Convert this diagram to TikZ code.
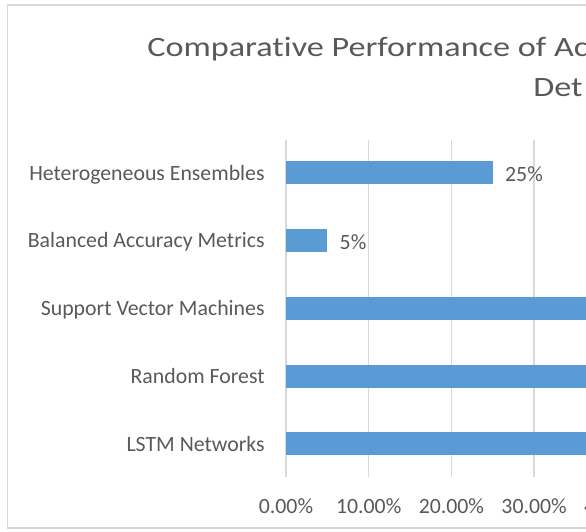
\documentclass[tikz,border=0pt]{standalone}
\usepackage{fontspec}
\setmainfont[Ligatures = NoCommon]{Carlito}
\newfontfamily\titlefont[FakeStretch = 1.22, Ligatures = NoCommon]{Carlito}
\definecolor{barblue}{HTML}{5B9BD5}
\definecolor{labelgray}{HTML}{595959}
\definecolor{gridgray}{HTML}{D9D9D9}
\tikzset{
    bar/.style = {fill = barblue},
    gridline/.style = {draw = gridgray, line width = 0.75pt},
    catlabel/.style = {anchor = base east, inner sep = 0, text = labelgray, font = \fontsize{10.9}{13}\selectfont},
    vallabel/.style = {anchor = base west, inner sep = 0, text = labelgray, font = \fontsize{10.9}{13}\selectfont},
    ticklabel/.style = {anchor = base, inner sep = 0, text = labelgray, font = \fontsize{10.9}{13}\selectfont},
    titlelabel/.style = {anchor = base west, inner sep = 0, text = labelgray, font = \titlefont\fontsize{14}{17}\selectfont}
}
\begin{document}
\begin{tikzpicture}[x = 0.5pt, y = -0.5pt]
        \pgfmathsetmacro{\u}{82.7};
        \useasboundingbox (0, 0) rectangle (586, 532);
        \draw [gridgray, line width = 0.75pt] (7.5, 5) rectangle (640, 528);
        \node [titlelabel] (title1) at (147, 56) {Comparative Performance of Ac};
        \node [titlelabel] (title2) at (533, 96) {Det};
        \draw [gridline] (286, 140) -- (286, 477);
        \draw [gridline] ({286 + \u}, 140) -- ({286 + \u}, 477);
        \draw [gridline] ({286 + 2*\u}, 140) -- ({286 + 2*\u}, 477);
        \draw [gridline] ({286 + 3*\u}, 140) -- ({286 + 3*\u}, 477);
        \draw [gridline] ({286 + 4*\u}, 140) -- ({286 + 4*\u}, 477);
        \fill [bar] (286, 160.5) rectangle ({286 + 2.5*\u}, 183.5);
        \fill [bar] (286, 228.5) rectangle ({286 + 0.5*\u}, 251.5);
        \fill [bar] (286, 296.5) rectangle ({286 + 4.5*\u}, 319.5);
        \fill [bar] (286, 364.5) rectangle ({286 + 4.5*\u}, 387.5);
        \fill [bar] (286, 432) rectangle ({286 + 4.5*\u}, 455);
        \node [catlabel] (he) at (265, 180.5) {Heterogeneous Ensembles};
        \node [catlabel] (bam) at (265, 247.5) {Balanced Accuracy Metrics};
        \node [catlabel] (svm) at (265, 315.5) {Support Vector Machines};
        \node [catlabel] (rf) at (265, 383.5) {Random Forest};
        \node [catlabel] (lstm) at (265, 451) {LSTM Networks};
        \node [vallabel] (he-val) at ({286 + 2.5*\u + 12}, 181) {25\%};
        \node [vallabel] (bam-val) at ({286 + 0.5*\u + 12}, 249) {5\%};
        \node [ticklabel] (t0) at (286, 513) {0.00\%};
        \node [ticklabel] (t1) at ({286 + \u}, 513) {10.00\%};
        \node [ticklabel] (t2) at ({286 + 2*\u}, 513) {20.00\%};
        \node [ticklabel] (t3) at ({286 + 3*\u}, 513) {30.00\%};
        \node [ticklabel] (t4) at ({286 + 4*\u}, 513) {40.00\%};
    \end{tikzpicture}
\end{document}
